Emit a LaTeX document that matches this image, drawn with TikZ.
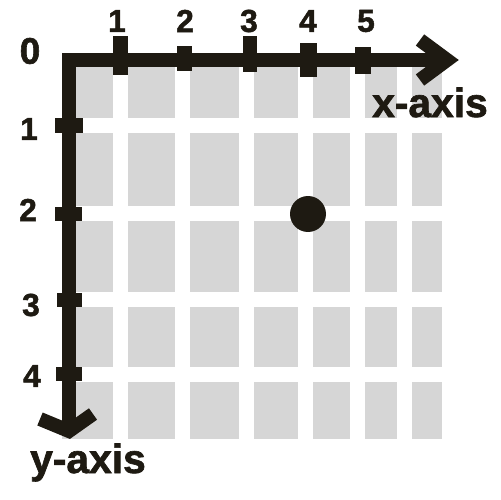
\documentclass[tikz,border=0pt]{standalone}
\usepackage{fontspec}
\setmainfont{Liberation Sans}
\newfontfamily\heavyfont{Liberation Sans Bold}[FakeBold=1.6]
\definecolor{ink}{RGB}{30,26,18}
\definecolor{cellgray}{RGB}{214,214,214}
\begin{document}
\begin{tikzpicture}[x=0.02cm,y=-0.02cm,
  axisline/.style={draw=ink, line width=0.28cm, line join=miter, line cap=butt},
  tickbar/.style={fill=ink},
  num/.style={font=\heavyfont\fontsize{18.1}{18.1}\selectfont, text=ink, inner sep=0pt},
  zeronum/.style={font=\heavyfont\fontsize{21}{21}\selectfont, text=ink, inner sep=0pt},
  axlabel/.style={font=\heavyfont\fontsize{23.2}{23.2}\selectfont, text=ink, inner sep=0pt, anchor=base}
]
\useasboundingbox (0,0) rectangle (500,500);
% grey cells
\foreach \xa/\xb in {62/113,128/175,190/239,254/298,313/350,365/397,412/442}{
  \foreach \ya/\yb in {53/118,133/206,221/292,307/367,382/439}{
    \fill[cellgray] (\xa,\ya) rectangle (\xb,\yb);
  }
}
% axes
\coordinate (O) at (69,60);
\coordinate (xv) at (447,60);
\coordinate (yv) at (69,431);
\coordinate (xa1) at (420,40);
\coordinate (xa2) at (420,80);
\coordinate (ya1) at (40,419);
\coordinate (ya2) at (93,414);
\draw[axisline] (yv) -- (O) -- (xv);
\draw[axisline] (xa1) -- (xv) -- (xa2);
\draw[axisline] (ya1) -- (yv) -- (ya2);
% x ticks
\fill[tickbar] (113,36) rectangle (128,75);
\fill[tickbar] (177,46) rectangle (192,71);
\fill[tickbar] (243,36) rectangle (257,72);
\fill[tickbar] (300,43) rectangle (317,77);
\fill[tickbar] (355,47) rectangle (371,74);
% y ticks
\fill[tickbar] (55,118) rectangle (83,133);
\fill[tickbar] (55,207) rectangle (82,221);
\fill[tickbar] (57,293) rectangle (82,307);
\fill[tickbar] (56,367) rectangle (82,381);
% point
\fill[ink] (308,214) circle[radius=0.36cm];
% labels
\node[zeronum] (l0) at (30,51) {0};
\node[num] (lx1) at (117,21) {1};
\node[num] (lx2) at (185,21) {2};
\node[num] (lx3) at (249,21) {3};
\node[num] (lx4) at (308,21) {4};
\node[num] (lx5) at (366,21) {5};
\node[num] (ly1) at (29,129) {1};
\node[num] (ly2) at (28,210) {2};
\node[num] (ly3) at (31,305) {3};
\node[num] (ly4) at (32,376) {4};
\node[axlabel] (xlab) at (430,117) {x-axis};
\node[axlabel] (ylab) at (88,473) {y-axis};
\end{tikzpicture}
\end{document}
